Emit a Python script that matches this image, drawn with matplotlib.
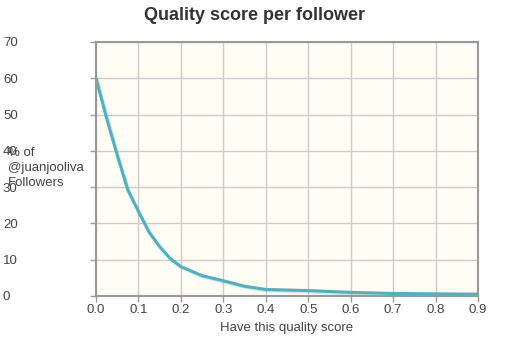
import matplotlib.pyplot as plt
import matplotlib.patheffects as pe

plt.rcParams['font.family'] = ['Liberation Sans', 'DejaVu Sans']

# quality score vs % of followers
score = [0.0, 0.025, 0.05, 0.075, 0.1, 0.125, 0.15, 0.175, 0.2, 0.25, 0.3, 0.35, 0.4,
         0.5, 0.6, 0.7, 0.8, 0.9]
pct = [60.0, 49.0, 38.8, 29.2, 23.3, 17.6, 13.6, 10.3, 8.1, 5.6, 4.2, 2.7, 1.8,
       1.5, 1.0, 0.7, 0.6, 0.5]

x_ticks = [0.0, 0.1, 0.2, 0.3, 0.4, 0.5, 0.6, 0.7, 0.8, 0.9]
y_ticks = [0, 10, 20, 30, 40, 50, 60, 70]

fig = plt.figure(figsize=(5.1, 3.55), dpi=100)
ax = fig.add_axes([96/510, 59/355, 382/510, 254/355])
ax.set_facecolor('#fffdf4')

ax.plot(score, pct, color='#4ab2c3', lw=2.2, solid_joinstyle='round', solid_capstyle='round',
        path_effects=[pe.SimpleLineShadow(offset=(1, -1), shadow_color='#888', alpha=0.25),
                      pe.Normal()])

ax.set_xlim(0, 0.9)
ax.set_ylim(0, 70)
ax.set_xticks(x_ticks)
ax.set_xticklabels(['%.1f' % v for v in x_ticks])
ax.set_yticks(y_ticks)
ax.set_yticklabels([str(v) for v in y_ticks])
ax.grid(True, color='#cccccc', lw=1)
ax.set_axisbelow(True)

for side in ax.spines.values():
    side.set_color('#999999')
    side.set_linewidth(1.5)

ax.tick_params(axis='both', colors='#999999', labelcolor='#444444', labelsize=9.5, length=4, width=1)
ax.tick_params(axis='x', pad=2)
ax.tick_params(axis='y', pad=63)
for lbl in ax.get_yticklabels():
    lbl.set_horizontalalignment('left')

ax.set_xlabel('Have this quality score', fontsize=9.5, color='#444444', labelpad=4)
fig.text(8/510, 1 - 168/355, '% of\n@juanjooliva\nFollowers', fontsize=9.5, color='#444444',
         ha='left', va='center', linespacing=1.35)

fig.suptitle('Quality score per follower', x=0.5, y=1 - 15/355, va='center',
             fontsize=13, fontweight='bold', color='#333333')

fig.savefig('out.png', dpi=100)
